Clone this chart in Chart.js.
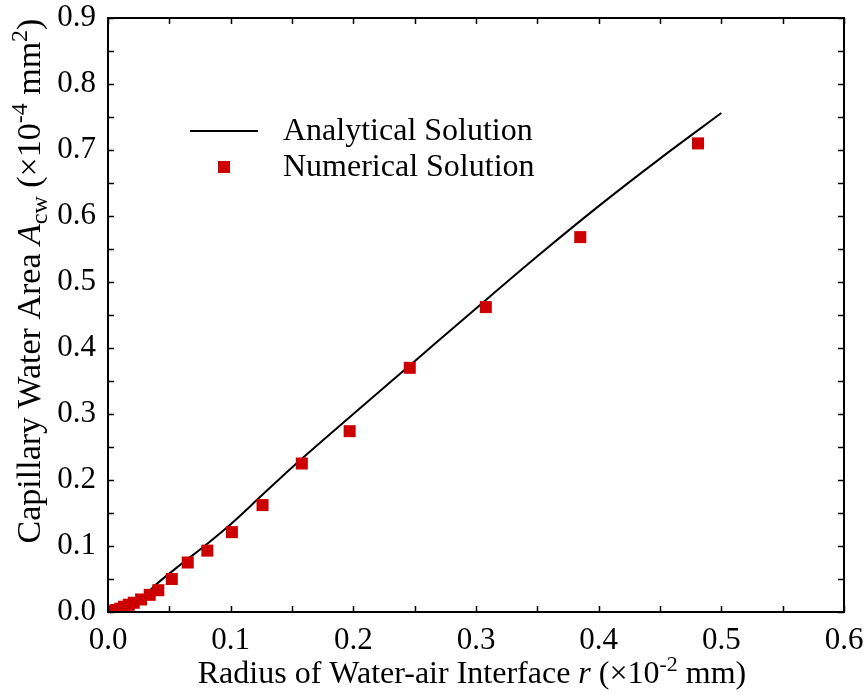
<!DOCTYPE html>
<html>
<head>
<meta charset="utf-8">
<script src="https://cdn.jsdelivr.net/npm/chart.js@4/dist/chart.umd.min.js"></script>
<style>
  html, body { margin: 0; padding: 0; background: #fff; }
  #wrap { width: 866px; height: 695px; }
</style>
</head>
<body>
<div id="wrap"><canvas id="capChart"></canvas></div>
<script>
// analytical solution
const lineR = [0, 0.01, 0.02, 0.03, 0.04, 0.06, 0.08, 0.1, 0.125, 0.15, 0.2, 0.25, 0.3, 0.35, 0.4, 0.45, 0.5];
const lineA = [0, 0.004, 0.012, 0.026, 0.043, 0.073, 0.102, 0.133, 0.176, 0.219, 0.300, 0.380, 0.460, 0.539, 0.615, 0.687, 0.756];

// numerical solution, squares
const numR = [0.481, 0.385, 0.308, 0.246, 0.197, 0.158, 0.126, 0.101, 0.081, 0.065, 0.052, 0.041,
              0.034, 0.027, 0.021, 0.017, 0.013, 0.010, 0.007, 0.005, 0.003, 0.001];
const numA = [0.710, 0.568, 0.462, 0.370, 0.274, 0.225, 0.162, 0.121, 0.093, 0.075, 0.050, 0.033,
              0.026, 0.019, 0.014, 0.011, 0.008, 0.005, 0.003, 0.002, 0.001, 0.000];

const xTicks = [0, 0.1, 0.2, 0.3, 0.4, 0.5, 0.6];
const yTicks = [0, 0.1, 0.2, 0.3, 0.4, 0.5, 0.6, 0.7, 0.8, 0.9];

const FONT = 'Liberation Serif';
const FS = 31;

// draw a line of text made of pieces (italic, sub, sup)
function richText(ctx, parts, x, y, size) {
  let total = 0;
  const font = p => (p.it ? 'italic ' : '') + Math.round(size * (p.s || 1)) + 'px "' + FONT + '"';
  parts.forEach(p => {
    ctx.font = font(p);
    p.w = ctx.measureText(p.t).width;
    total += p.w;
  });
  let cx = x - total / 2;
  parts.forEach(p => {
    ctx.font = font(p);
    ctx.fillText(p.t, cx, y + (p.dy || 0) * size);
    cx += p.w;
  });
}

const framePlugin = {
  id: 'frame',
  afterDatasetsDraw(chart) {
    const { ctx, chartArea: a, scales } = chart;
    ctx.save();
    ctx.strokeStyle = '#000';
    ctx.lineWidth = 2;
    ctx.strokeRect(a.left, a.top, a.right - a.left, a.bottom - a.top);
    ctx.lineWidth = 1.5;
    const tl = 6;
    ctx.beginPath();
    for (let v = 0; v <= 0.6001; v += 0.05) {
      const px = Math.round(scales.x.getPixelForValue(v)) + 0.5;
      ctx.moveTo(px, a.bottom); ctx.lineTo(px, a.bottom - tl);
      ctx.moveTo(px, a.top); ctx.lineTo(px, a.top + tl);
    }
    for (let v = 0; v <= 0.9001; v += 0.05) {
      const py = Math.round(scales.y.getPixelForValue(v)) + 0.5;
      ctx.moveTo(a.left, py); ctx.lineTo(a.left + tl, py);
      ctx.moveTo(a.right, py); ctx.lineTo(a.right - tl, py);
    }
    ctx.stroke();

    // legend
    const ds = chart.data.datasets;
    ctx.strokeStyle = ds[0].borderColor;
    ctx.lineWidth = ds[0].borderWidth;
    ctx.beginPath();
    ctx.moveTo(190, 131); ctx.lineTo(258, 131);
    ctx.stroke();
    ctx.fillStyle = ds[1].backgroundColor;
    ctx.fillRect(218, 161, 12, 12);
    ctx.fillStyle = '#000';
    ctx.font = '32px "' + FONT + '"';
    ctx.textBaseline = 'middle';
    ctx.textAlign = 'left';
    ctx.fillText(ds[0].label, 283, 132);
    ctx.fillText(ds[1].label, 283, 168);

    // axis titles
    ctx.textBaseline = 'alphabetic';
    richText(ctx, [
      { t: 'Radius of Water-air Interface ' },
      { t: 'r', it: true },
      { t: ' (\u00d710' },
      { t: '-2', s: 0.7, dy: -0.38 },
      { t: ' mm)' }
    ], 472, 683, 32);

    ctx.translate(40, 281);
    ctx.rotate(-Math.PI / 2);
    richText(ctx, [
      { t: 'Capillary Water Area ' },
      { t: 'A', it: true },
      { t: 'cw', s: 0.7, dy: 0.2 },
      { t: ' (\u00d710' },
      { t: '-4', s: 0.7, dy: -0.38 },
      { t: ' mm' },
      { t: '2', s: 0.7, dy: -0.38 },
      { t: ')' }
    ], 0, 0, 34);
    ctx.restore();
  }
};

new Chart(document.getElementById('capChart'), {
  type: 'scatter',
  data: {
    datasets: [
      {
        label: 'Analytical Solution',
        type: 'line',
        data: lineR.map((r, i) => ({ x: r, y: lineA[i] })),
        borderColor: '#000',
        borderWidth: 2,
        pointRadius: 0,
        fill: false,
        cubicInterpolationMode: 'monotone',
        order: 2
      },
      {
        label: 'Numerical Solution',
        data: numR.map((r, i) => ({ x: r, y: numA[i] })),
        backgroundColor: '#cc0000',
        borderWidth: 0,
        pointStyle: 'rect',
        pointRadius: 8.5,
        order: 1
      }
    ]
  },
  options: {
    responsive: true,
    maintainAspectRatio: false,
    animation: false,
    layout: { padding: { top: 18, right: 22, left: 0, bottom: 0 } },
    scales: {
      x: {
        type: 'linear',
        min: 0, max: 0.6,
        afterBuildTicks: s => { s.ticks = xTicks.map(v => ({ value: v })); },
        afterFit: s => { s.height = 83; s.paddingLeft = 0; s.paddingRight = 0; },
        ticks: {
          color: '#000', padding: 10, maxRotation: 0,
          font: { family: FONT, size: FS },
          callback: v => v.toFixed(1)
        },
        grid: { display: false, drawTicks: false },
        border: { display: false }
      },
      y: {
        type: 'linear',
        min: 0, max: 0.9,
        afterBuildTicks: s => { s.ticks = yTicks.map(v => ({ value: v })); },
        afterFit: s => { s.width = 108; s.paddingTop = 0; s.paddingBottom = 0; },
        ticks: {
          color: '#000', padding: 12,
          font: { family: FONT, size: FS },
          callback: v => v.toFixed(1)
        },
        grid: { display: false, drawTicks: false },
        border: { display: false }
      }
    },
    plugins: {
      legend: { display: false },
      tooltip: { enabled: false }
    }
  },
  plugins: [framePlugin]
});
</script>
</body>
</html>
